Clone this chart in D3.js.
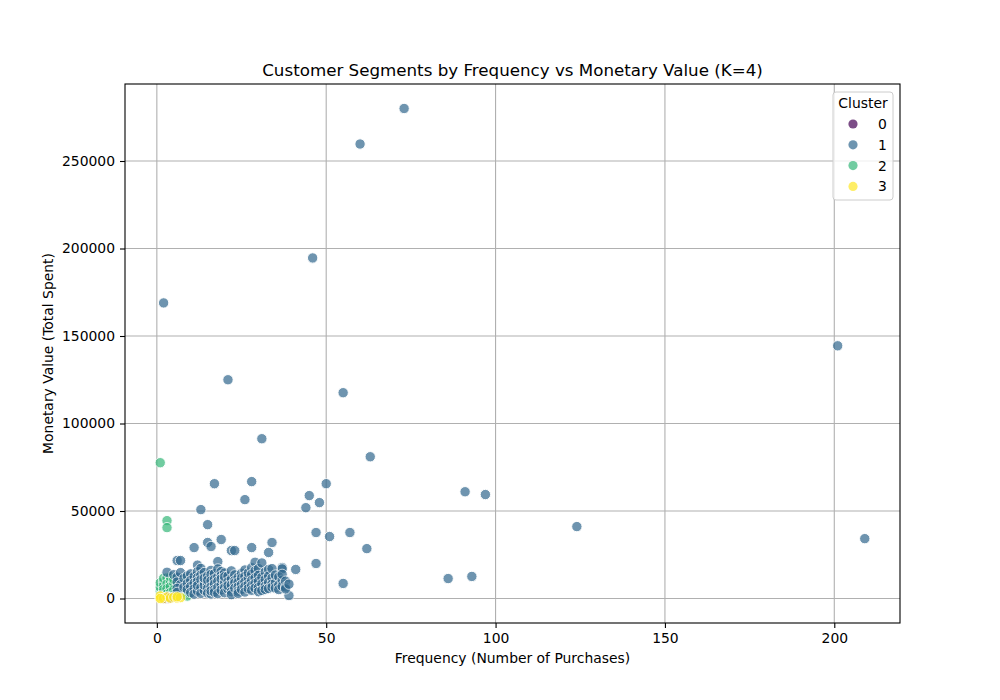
<!DOCTYPE html>
<html>
<head>
<meta charset="utf-8">
<script src="https://cdn.jsdelivr.net/npm/d3@7"></script>
<style>
  body { margin: 0; background: #fff; }
  svg { font-family: "DejaVu Sans", sans-serif; }
</style>
</head>
<body>
<div id="chart"></div>
<script>
// ---- data: [frequency, monetary] per cluster ----
const cluster0 = [
  [2, 400], [3, 150], [3, 700], [4, 450], [2, 0]
];

const cluster1 = [
  // outliers
  [73, 280000], [60, 259700], [46, 194600], [2, 168900], [201, 144400], [21, 125000],
  [55, 117600], [31, 91300], [63, 81000], [28, 66800], [17, 65600], [50, 65600],
  [91, 61000], [97, 59400], [45, 58800], [26, 56500], [48, 54800], [44, 51900],
  [13, 50800], [15, 42200], [124, 41100], [47, 37700], [57, 37700], [51, 35400],
  [209, 34200], [19, 33700], [15, 32000], [34, 32000], [16, 29700], [11, 29100],
  [28, 29100], [62, 28500], [33, 26300], [22, 27400], [23, 27400], [6, 21700],
  [7, 21700], [18, 21100], [47, 20000], [55, 8600], [86, 11400], [93, 12600],
  [39, 1700], [41, 16600], [37, 17700], [37, 16900],
  // dense block
  [3, 15000], [5, 13600], [6, 12200], [6, 9400], [7, 7900], [6, 5800], [6, 3500],
  [7, 14800], [8, 11500], [8, 6400], [9, 12900], [9, 8600], [9, 5200], [10, 14100], [10, 10300],
  [10, 6900], [10, 3400], [11, 12600], [11, 8800], [11, 5600], [11, 2500],
  [12, 19100], [12, 15300], [12, 11900], [12, 9700], [12, 4300], [12, 7300],
  [13, 17200], [13, 13400], [13, 10800], [13, 6200], [13, 2900],
  [14, 14800], [14, 9100], [14, 4700], [14, 7600], [14, 11600],
  [15, 12900], [15, 8200], [15, 5800], [15, 3100], [15, 10500],
  [16, 16100], [16, 13700], [16, 10100], [16, 6700], [16, 2600], [16, 4400],
  [17, 14200], [17, 11000], [17, 8300], [17, 5100], [17, 3600],
  [18, 12400], [18, 9900], [18, 6400], [18, 2800], [18, 16900],
  [19, 15400], [19, 13100], [19, 7900], [19, 4900], [19, 11200],
  [20, 14600], [20, 10700], [20, 8700], [20, 6100], [20, 3300], [20, 12400],
  [21, 12800], [21, 9600], [21, 5400], [21, 7400],
  [22, 15800], [22, 11100], [22, 7700], [22, 3900], [22, 2200],
  [23, 13500], [23, 10300], [23, 8900], [23, 5900],
  [24, 12100], [24, 9200], [24, 6600], [24, 4100], [24, 2900],
  [25, 14400], [25, 11700], [25, 7900], [25, 5300],
  [26, 16300], [26, 12600], [26, 9500], [26, 6800], [26, 3700],
  [27, 11900], [27, 8100], [27, 5600], [27, 14600],
  [28, 17600], [28, 13900], [28, 10400], [28, 7300], [28, 4700],
  [29, 20700], [29, 15900], [29, 11800], [29, 8600], [29, 5900],
  [30, 17100], [30, 13200], [30, 9800], [30, 6300], [30, 3900],
  [31, 20300], [31, 12100], [31, 8400], [31, 4600],
  [32, 15200], [32, 10900], [32, 7100], [32, 5200],
  [33, 16600], [33, 12800], [33, 9300], [33, 5700],
  [34, 17100], [34, 11700], [34, 8200], [34, 6400],
  [35, 9000], [35, 6000], [35, 13400],
  [36, 12300], [36, 7700], [36, 5100],
  [37, 10400], [37, 7000], [37, 13800],
  [38, 9900], [38, 6500], [38, 5500],
  [39, 8200]
];

const cluster2 = [
  [1, 77600], [1, 4200], [1, 2100], [1, 6500], [1, 9000],
  [2, 9500], [2, 7300], [2, 3900], [2, 5200], [2, 11600],
  [3, 44500], [3, 40500], [3, 11800], [3, 8400], [3, 5600], [3, 2600],
  [4, 10200], [4, 6800], [4, 3400], [4, 12300],
  [5, 8900], [5, 5000], [5, 2100], [5, 11000],
  [6, 1600], [7, 2700], [8, 12000], [8, 3500], [9, 1400]
];

const cluster3 = [
  [1, 300], [1, 900], [1, 1500], [2, 100], [3, 900], [4, 200], [5, 800],
  [6, 200], [7, 500], [6, 1000], [1, 0]
];

const clusterLabels = ["0", "1", "2", "3"];
const xTicks = [0, 50, 100, 150, 200];
const yTicks = [0, 50000, 100000, 150000, 200000, 250000];

// ---- layout ----
const width = 1000;
const height = 700;
const margin = { top: 84, left: 125, right: 100, bottom: 77 };

const svg = d3.select("#chart")
  .append("svg")
  .attr("width", width)
  .attr("height", height);

const all = cluster0.concat(cluster1, cluster2, cluster3);
const fExt = d3.extent(all, d => d[0]);
const mExt = d3.extent(all, d => d[1]);
const fPad = (fExt[1] - fExt[0]) * 0.05;
const mPad = (mExt[1] - mExt[0]) * 0.05;

const x = d3.scaleLinear()
  .domain([fExt[0] - fPad, fExt[1] + fPad])
  .range([margin.left, width - margin.right]);

const y = d3.scaleLinear()
  .domain([mExt[0] - mPad, mExt[1] + mPad])
  .range([height - margin.bottom, margin.top]);

// viridis sampled for a numeric hue 0..3
const color = d3.scaleSequential(d3.interpolateViridis).domain([0, 3]);

// grid
svg.append("g")
  .selectAll("line")
  .data(xTicks)
  .join("line")
  .attr("x1", d => x(d)).attr("x2", d => x(d))
  .attr("y1", margin.top).attr("y2", height - margin.bottom)
  .attr("stroke", "#b0b0b0").attr("stroke-width", 1.1);

svg.append("g")
  .selectAll("line")
  .data(yTicks)
  .join("line")
  .attr("y1", d => y(d)).attr("y2", d => y(d))
  .attr("x1", margin.left).attr("x2", width - margin.right)
  .attr("stroke", "#b0b0b0").attr("stroke-width", 1.1);

// points (drawn in this order)
const layers = [
  { k: 2, pts: cluster2 },
  { k: 1, pts: cluster1 },
  { k: 0, pts: cluster0 },
  { k: 3, pts: cluster3 }
];

layers.forEach(function (layer) {
  svg.append("g")
    .selectAll("circle")
    .data(layer.pts)
    .join("circle")
    .attr("cx", d => x(d[0]))
    .attr("cy", d => y(d[1]))
    .attr("r", 5.2)
    .attr("fill", color(layer.k))
    .attr("stroke", "#fff")
    .attr("stroke-width", 1)
    .attr("opacity", 0.7);
});

// axes
const xAxis = svg.append("g")
  .attr("transform", `translate(0,${height - margin.bottom})`)
  .call(d3.axisBottom(x).tickValues(xTicks).tickSize(5).tickPadding(5).tickFormat(d3.format("d")));

const yAxis = svg.append("g")
  .attr("transform", `translate(${margin.left},0)`)
  .call(d3.axisLeft(y).tickValues(yTicks).tickSize(5).tickPadding(5).tickFormat(d3.format("d")));

[xAxis, yAxis].forEach(function (a) {
  a.select(".domain").remove();
  a.selectAll(".tick line").attr("stroke", "#000").attr("stroke-width", 1.1);
  a.selectAll(".tick text")
    .attr("fill", "#000")
    .style("font-family", "DejaVu Sans")
    .style("font-size", "13.9px");
});

// frame
svg.append("rect")
  .attr("x", margin.left)
  .attr("y", margin.top)
  .attr("width", width - margin.left - margin.right)
  .attr("height", height - margin.top - margin.bottom)
  .attr("fill", "none")
  .attr("stroke", "#000")
  .attr("stroke-width", 1.1);

// title and labels
svg.append("text")
  .attr("x", (margin.left + width - margin.right) / 2)
  .attr("y", 76)
  .attr("text-anchor", "middle")
  .style("font-size", "16.7px")
  .text("Customer Segments by Frequency vs Monetary Value (K=4)");

svg.append("text")
  .attr("x", (margin.left + width - margin.right) / 2)
  .attr("y", 663)
  .attr("text-anchor", "middle")
  .style("font-size", "13.9px")
  .text("Frequency (Number of Purchases)");

svg.append("text")
  .attr("transform", `translate(53,${(margin.top + height - margin.bottom) / 2}) rotate(-90)`)
  .attr("text-anchor", "middle")
  .style("font-size", "13.9px")
  .text("Monetary Value (Total Spent)");

// legend
const lg = svg.append("g").attr("transform", "translate(833,92)");

lg.append("rect")
  .attr("width", 60)
  .attr("height", 108)
  .attr("rx", 3)
  .attr("fill", "#fff")
  .attr("fill-opacity", 0.8)
  .attr("stroke", "#cccccc")
  .attr("stroke-width", 1);

lg.append("text")
  .attr("x", 30)
  .attr("y", 16)
  .attr("text-anchor", "middle")
  .style("font-size", "13.9px")
  .text("Cluster");

const items = lg.selectAll("g.item")
  .data(clusterLabels)
  .join("g")
  .attr("class", "item")
  .attr("transform", (d, i) => `translate(0,${32 + i * 20.8})`);

items.append("circle")
  .attr("cx", 20)
  .attr("cy", 0)
  .attr("r", 4.6)
  .attr("fill", d => color(+d))
  .attr("opacity", 0.7);

items.append("text")
  .attr("x", 45)
  .attr("y", 5)
  .style("font-size", "13.9px")
  .text(d => d);
</script>
</body>
</html>
